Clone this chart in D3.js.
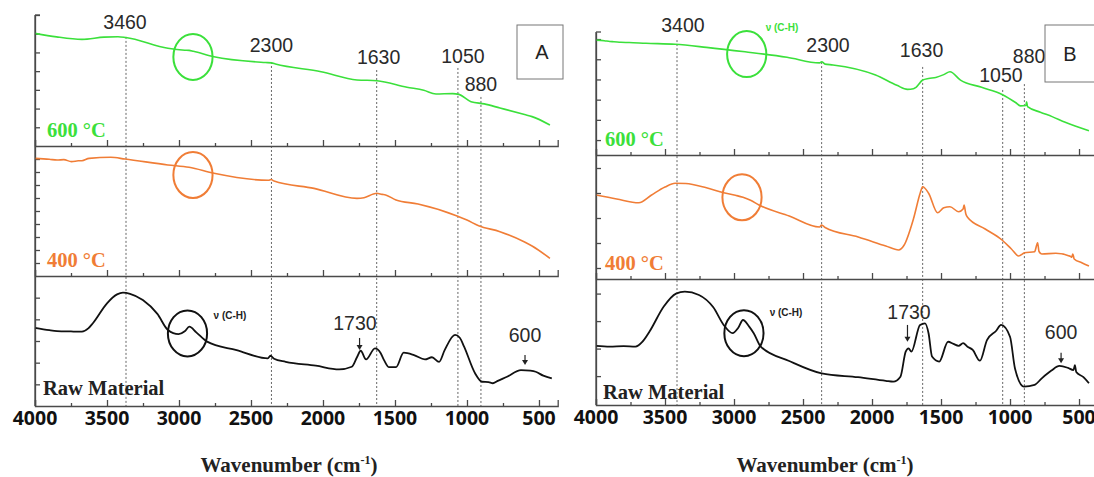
<!DOCTYPE html>
<html><head><meta charset="utf-8">
<script src="https://cdn.jsdelivr.net/npm/d3@7"></script>
<style>body{margin:0;background:#fff} svg{display:block}</style>
</head><body>
<svg id="c" width="1094" height="477"></svg>
<script>
// ---------------- DATA ----------------
const xTickValues  = [4000, 3500, 3000, 2500, 2000, 1500, 1000, 500];
const xMinorValues = [3750, 3250, 2750, 2250, 1750, 1250, 750];
const seriesNames  = ["600 °C", "400 °C", "Raw Material"];
const panelNames   = ["A", "B"];
const axisTitle    = "Wavenumber (cm";

// peak marker lines (wavenumber position) and their labels
const peakLabelsA = ["3460", "2300", "1630", "1050", "880"];
const peakLinesA  = [3368, 2358, 1627, 1063, 903];
const peakLineTopA = [5.83, 4.49, 4.06, 4.17, 2.62];       // in top-panel units
const peakLabelPosA = [[3375, 6.64], [2358, 5.40], [1614, 4.77], [1028, 4.81], [903, 3.31]];

const peakLabelsB = ["3400", "2300", "1630", "1050", "880"];
const peakLinesB  = [3413, 2365, 1633, 1053, 896];
const peakLineTopB = [5.69, 4.60, 4.36, 3.22, 3.51];
const peakLabelPosB = [[3370, 6.44], [2319, 5.45], [1641, 5.20], [1066, 3.94], [862, 4.92]];

// y tick values of each stacked sub-panel (arbitrary transmittance units)
const yTicksA = [[1, 2, 3, 4, 5, 6, 7], [1, 2, 3, 4, 5, 6, 7, 8, 9], [1, 2, 3, 4, 5]];
const yDomA   = [7, 10, 6];
const yTicksB = [[0.74, 1.74, 2.74, 3.74, 4.74, 5.74], [0.44, 1.44, 2.44, 3.44, 4.44], [1.05, 2.05, 3.05, 4.05]];
const yDomB   = [6.09, 4.96, 4.58];

// spectra: [wavenumber, value]
const A600 = [[4000,6.02],[3850,5.83],[3674,5.70],[3520,5.82],[3424,5.84],[3370,5.80],[3077,5.22],[2960,5.12],
  [2930,5.11],[2900,5.06],[2757,4.77],[2400,4.46],[2358,4.44],[2330,4.38],[2013,3.97],[1764,3.53],[1625,3.49],
  [1417,3.14],[1300,2.98],[1215,2.78],[1100,2.80],[1056,2.76],[972,2.37],[880,2.25],[771,2.03],[600,1.68],[548,1.57],[424,1.12]];
const A400 = [[4000,9.05],[3900,8.98],[3847,8.92],[3800,8.95],[3747,8.80],[3700,8.86],[3674,8.87],[3624,9.05],
  [3474,9.13],[3375,9.00],[3077,8.54],[2930,8.36],[2757,7.90],[2380,7.36],[2360,7.42],[2340,7.30],[2062,6.74],
  [1764,5.97],[1715,6.02],[1650,6.30],[1627,6.36],[1590,6.28],[1565,6.23],[1493,5.85],[1340,5.54],[1069,4.62],
  [1000,4.30],[919,3.87],[771,3.41],[600,2.62],[548,2.31],[424,1.36]];
const Araw = [[4000,3.61],[3900,3.50],[3847,3.46],[3750,3.44],[3674,3.43],[3630,3.58],[3598,3.82],[3500,4.74],
  [3430,5.15],[3389,5.23],[3340,5.18],[3251,4.89],[3150,4.25],[3077,3.51],[3003,3.32],[2960,3.45],[2928,3.66],
  [2880,3.40],[2805,2.97],[2600,2.58],[2383,2.20],[2365,2.32],[2340,2.18],[2259,2.04],[2050,1.86],[1888,1.69],
  [1800,1.81],[1764,2.25],[1738,2.55],[1701,2.15],[1639,2.66],[1600,2.45],[1576,2.12],[1541,1.79],[1493,1.79],
  [1440,2.46],[1368,2.35],[1292,2.15],[1243,2.25],[1194,2.04],[1155,2.58],[1083,3.28],[1050,3.15],[1020,2.74],
  [944,1.51],[896,1.12],[850,1.10],[820,1.05],[790,1.15],[722,1.35],[625,1.66],[560,1.63],[523,1.58],[470,1.40],[411,1.28]];

const B600 = [[4000,5.69],[3940,5.66],[3900,5.62],[3870,5.61],[3820,5.58],[3760,5.57],[3638,5.53],[3427,5.48],
  [3200,5.33],[2920,5.11],[2616,4.84],[2380,4.56],[2365,4.62],[2340,4.50],[2283,4.46],[1974,3.96],[1820,3.45],
  [1743,3.25],[1700,3.28],[1681,3.35],[1633,3.71],[1590,3.79],[1538,3.84],[1480,3.98],[1435,4.12],[1359,3.71],
  [1206,3.35],[1058,3.00],[960,2.60],[924,2.43],[885,2.45],[880,2.64],[873,2.39],[780,2.12],[695,1.90],[600,1.62],[428,1.20]];
const B400 = [[4000,3.36],[3850,3.20],[3690,3.05],[3600,3.35],[3500,3.68],[3427,3.83],[3350,3.82],[3200,3.65],
  [3075,3.45],[2990,3.35],[2935,3.27],[2880,3.15],[2819,2.96],[2600,2.52],[2380,2.08],[2365,2.16],[2340,2.06],
  [2100,1.68],[1900,1.32],[1807,1.16],[1768,1.35],[1700,2.40],[1650,3.45],[1633,3.69],[1590,3.43],[1525,2.65],
  [1480,2.85],[1435,2.89],[1372,2.69],[1340,2.80],[1333,2.96],[1320,2.60],[1308,2.47],[1180,2.00],[1058,1.56],
  [990,1.20],[937,0.92],[894,1.05],[822,1.09],[800,1.45],[790,1.10],[770,1.00],[668,1.03],[560,0.90],[553,0.87],
  [545,1.00],[535,0.80],[480,0.65],[428,0.52]];
const Braw = [[4000,2.15],[3900,2.12],[3800,2.14],[3714,2.12],[3663,2.30],[3612,2.67],[3509,3.58],[3420,4.05],
  [3356,4.12],[3254,4.00],[3150,3.55],[3075,2.91],[3010,2.61],[2970,2.80],[2935,3.09],[2890,2.85],[2857,2.61],
  [2806,2.12],[2600,1.60],[2365,1.15],[2101,1.01],[1900,0.88],[1846,0.85],[1794,1.03],[1756,1.94],[1735,2.06],
  [1715,1.94],[1652,2.91],[1616,2.97],[1590,2.60],[1565,1.76],[1513,1.58],[1449,2.30],[1410,2.22],[1372,2.15],
  [1340,2.25],[1308,2.12],[1270,2.00],[1218,1.61],[1167,2.36],[1100,2.70],[1065,2.91],[1000,2.48],[964,1.33],
  [899,0.67],[822,0.73],[770,0.97],[700,1.25],[642,1.42],[580,1.35],[540,1.27],[530,1.45],[520,1.20],[470,1.02],[428,0.79]];

// annotations (wavenumber, sub-panel units)
const circlesA = [[2903, 4.76], [2903, 7.77], [2941, 3.35]];
const circlesB = [[2908, 5.00], [2942, 3.27], [2928, 2.61]];
const chLabelA = [2646, 4.20];
const chLabelB = [[2652, 6.30], [2623, 3.35]];
const rawAnnotA = [{t:"1730", w:1778, u:3.82, aw:1746, a0:3.14, a1:2.58}, {t:"600", w:597, u:3.28, aw:597, a0:2.35, a1:1.89}];
const rawAnnotB = [{t:"1730", w:1732, u:3.39, aw:1743, a0:2.91, a1:2.30}, {t:"600", w:630, u:2.67, aw:630, a0:1.90, a1:1.52}];
const nameLabelPosA = [[3917, 0.86], [3917, 1.23], [3944, 0.82]];
const nameLabelPosB = [[3935, 0.79], [3935, 0.64], [3949, 0.48]];

// ---------------- DRAW ----------------
const colors = ["#3be03b", "#f07d36", "#111111"];
const svg = d3.select("#c");
svg.append("rect").attr("width",1094).attr("height",477).attr("fill","#fff");

function panel(cfg) {
  const g = svg.append("g");
  const x = d3.scaleLinear().domain(cfg.xDom).range(cfg.xRange);
  const ys = cfg.bands.map((b, i) => d3.scaleLinear().domain([0, cfg.yDom[i]]).range(b));
  const series = [cfg.s600, cfg.s400, cfg.sraw];
  const axisColor = "#4a4a4a";

  cfg.lines.forEach((w, i) => {
    g.append("line").attr("x1", x(w)).attr("x2", x(w))
      .attr("y1", ys[0](cfg.lineTop[i])).attr("y2", cfg.bands[2][0])
      .attr("stroke", "#666").attr("stroke-width", 1).attr("stroke-dasharray", "2,2");
  });

  cfg.bands.forEach((b, i) => {
    const y = ys[i];
    const xa = g.append("g").attr("transform", `translate(0,${b[0]})`)
      .call(d3.axisTop(x).tickValues(xTickValues).tickSize(6).tickFormat(""));
    g.append("g").attr("transform", `translate(0,${b[0]})`)
      .call(d3.axisTop(x).tickValues(xMinorValues).tickSize(3).tickFormat(""))
      .select(".domain").remove();
    xa.selectAll("path,line").attr("stroke", axisColor).attr("stroke-width", 1.3);
    g.selectAll(".tick line").attr("stroke", axisColor).attr("stroke-width", 1.3);
    const ya = g.append("g").attr("transform", `translate(${cfg.xRange[0]},0)`)
      .call(d3.axisRight(y).tickValues(cfg.yTicks[i]).tickSize(5).tickSizeOuter(0).tickFormat(""));
    ya.selectAll("path,line").attr("stroke", axisColor).attr("stroke-width", 1.3);

    const line = d3.line().x(d => x(d[0])).y(d => y(d[1])).curve(d3.curveMonotoneX);
    g.append("path").datum(series[i]).attr("d", line)
      .attr("fill", "none").attr("stroke", colors[i]).attr("stroke-width", i === 2 ? 1.8 : 1.6)
      .attr("stroke-linejoin", "round");

    g.append("ellipse").attr("cx", x(cfg.circles[i][0])).attr("cy", y(cfg.circles[i][1]))
      .attr("rx", 19.6).attr("ry", 23).attr("fill", "none").attr("stroke", colors[i]).attr("stroke-width", 2);

    g.append("text").attr("x", x(cfg.names[i][0])).attr("y", y(cfg.names[i][1]))
      .attr("dominant-baseline", "central")
      .attr("font-family", "Liberation Serif, serif").attr("font-weight", "bold")
      .attr("font-size", 20.5).attr("fill", i === 2 ? "#222" : colors[i])
      .text(seriesNames[i]);
  });

  g.append("line").attr("x1", cfg.xRange[0]).attr("x2", cfg.xRange[0])
    .attr("y1", cfg.bands[0][1]).attr("y2", cfg.bands[2][0]).attr("stroke", axisColor).attr("stroke-width", 1.3);
  g.append("line").attr("x1", cfg.xRange[0]).attr("x2", cfg.xRange[0] + 5)
    .attr("y1", cfg.bands[0][1]).attr("y2", cfg.bands[0][1]).attr("stroke", axisColor).attr("stroke-width", 1.3);

  g.selectAll(".xl").data(xTickValues).enter().append("text")
    .attr("x", d => x(d)).attr("y", cfg.bands[2][0] + 11).attr("dominant-baseline", "central")
    .attr("text-anchor", "middle").attr("font-family", "Open Sans, sans-serif").attr("font-weight", "bold")
    .attr("font-size", 19.5).attr("fill", "#111").text(d => d);

  const t = g.append("text").attr("x", (cfg.titleX)).attr("y", 472)
    .attr("text-anchor", "middle").attr("font-family", "Liberation Serif, serif").attr("font-weight", "bold")
    .attr("font-size", 21).attr("fill", "#222");
  t.append("tspan").text(axisTitle);
  t.append("tspan").attr("font-size", 12).attr("dy", -8).text("-1");
  t.append("tspan").attr("dy", 8).text(")");

  cfg.peakPos.forEach((p, i) => {
    g.append("text").attr("x", x(p[0])).attr("y", ys[0](p[1])).attr("dominant-baseline", "central")
      .attr("text-anchor", "middle").attr("font-family", "Liberation Sans, Arial, sans-serif")
      .attr("font-size", 19.5).attr("fill", "#2a2a2a").text(cfg.peakLabels[i]);
  });

  cfg.ch.forEach(c => {
    g.append("text").attr("x", x(c.p[0])).attr("y", ys[c.band](c.p[1])).attr("dominant-baseline", "central")
      .attr("text-anchor", "middle").attr("font-family", "Liberation Sans, Arial, sans-serif")
      .attr("font-weight", "bold").attr("font-size", 10).attr("fill", c.color).text("ν (C-H)");
  });

  cfg.raw.forEach(a => {
    const y = ys[2];
    g.append("text").attr("x", x(a.w)).attr("y", y(a.u)).attr("dominant-baseline", "central")
      .attr("text-anchor", "middle").attr("font-family", "Liberation Sans, Arial, sans-serif")
      .attr("font-size", 19.5).attr("fill", "#2a2a2a").text(a.t);
    const ax = x(a.aw), y0 = y(a.a0), y1 = y(a.a1);
    g.append("line").attr("x1", ax).attr("x2", ax).attr("y1", y0).attr("y2", y1 - 4)
      .attr("stroke", "#222").attr("stroke-width", 1.2);
    g.append("path").attr("d", `M${ax-3},${y1-5}L${ax+3},${y1-5}L${ax},${y1}Z`).attr("fill", "#222");
  });

  g.append("rect").attr("x", cfg.box[0]).attr("y", cfg.box[1]).attr("width", cfg.box[2]).attr("height", cfg.box[3])
    .attr("fill", "#fff").attr("stroke", "#777").attr("stroke-width", 1);
  g.append("text").attr("x", cfg.box[0] + 25).attr("y", cfg.box[1] + cfg.box[3] / 2)
    .attr("dominant-baseline", "central").attr("text-anchor", "middle")
    .attr("font-family", "Liberation Sans, Arial, sans-serif").attr("font-size", 20).attr("fill", "#222")
    .text(cfg.letter);
}

panel({
  letter: panelNames[0], xDom: [4000, 370], xRange: [35, 557.7],
  bands: [[146, 15], [276, 146], [406, 276]], yDom: yDomA, yTicks: yTicksA,
  s600: A600, s400: A400, sraw: Araw,
  lines: peakLinesA, lineTop: peakLineTopA, peakPos: peakLabelPosA, peakLabels: peakLabelsA,
  circles: circlesA, names: nameLabelPosA,
  ch: [{p: chLabelA, band: 2, color: "#222"}], raw: rawAnnotA,
  box: [517, 25, 46, 54], titleX: 289
});
panel({
  letter: panelNames[1], xDom: [4000, 390], xRange: [596, 1094.2],
  bands: [[155, 32], [279, 155], [405, 279]], yDom: yDomB, yTicks: yTicksB,
  s600: B600, s400: B400, sraw: Braw,
  lines: peakLinesB, lineTop: peakLineTopB, peakPos: peakLabelPosB, peakLabels: peakLabelsB,
  circles: circlesB, names: nameLabelPosB,
  ch: [{p: chLabelB[0], band: 0, color: colors[0]}, {p: chLabelB[1], band: 2, color: "#222"}], raw: rawAnnotB,
  box: [1045, 25, 60, 57], titleX: 825
});
</script>
</body></html>
